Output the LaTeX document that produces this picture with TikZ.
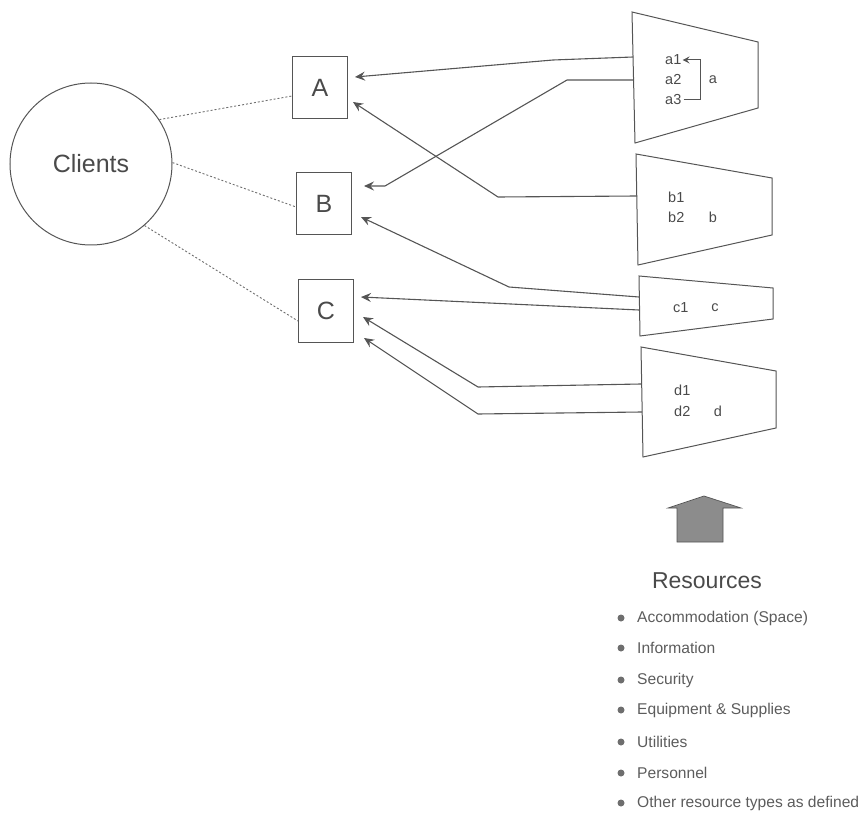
\documentclass[tikz,border=0pt]{standalone}
\usepackage{fontspec}
\setmainfont{Liberation Sans}
\usetikzlibrary{arrows.meta}
\definecolor{ink}{HTML}{555555}
\definecolor{txt}{HTML}{4A4A4A}
\definecolor{blockfill}{HTML}{8C8C8C}
\tikzset{
  line/.style={draw=ink, line width=1pt},
  feed/.style={line, line width=1.1pt, -{Stealth[length=10pt,width=9pt,inset=3.5pt]}},
  dots/.style={draw=ink!85, line width=0.9pt, dash pattern=on 2pt off 2pt},
  client/.style={circle, line, minimum size=162pt, inner sep=0pt, text=txt,
                 font=\fontsize{25}{29}\selectfont},
  centre/.style={rectangle, line, minimum width=55pt, minimum height=62pt,
                 inner sep=0pt, text=txt, font=\fontsize{25}{29}\selectfont},
  item/.style={anchor=west, inner sep=0pt, text=txt, font=\fontsize{14.5}{17}\selectfont},
  tag/.style={inner sep=0pt, text=txt, font=\fontsize{14.5}{17}\selectfont},
  listitem/.style={anchor=west, inner sep=0pt, text=txt!90, font=\fontsize{15.6}{18}\selectfont},
  dot/.style={circle, fill=ink!85, inner sep=0pt, minimum size=7pt}
}
\begin{document}
\begin{tikzpicture}[x=1pt, y=-1pt]
\useasboundingbox (0,0) rectangle (868,813);

% clients and service centres
\node[client] (clients) at (91,164) {Clients};
\node[centre] (A) at (320,88) {A};
\node[centre] (B) at (324,204) {B};
\node[centre] (C) at (326,311) {C};

\draw[dots] (clients.33) -- ([yshift=-8pt]A.west);
\draw[dots] (clients.1) -- ([yshift=-3pt]B.west);
\draw[dots] (clients.-49) -- ([yshift=-10pt]C.west);

% resource pools
\draw[line] (632,12) -- (758,42) -- (758,108) -- (635,143) -- cycle;
\draw[line] (636,154) -- (772,178) -- (772,235) -- (638,265) -- cycle;
\draw[line] (639,276) -- (773,288) -- (773,319) -- (640,336) -- cycle;
\draw[line] (641,347) -- (776,371) -- (776,428) -- (643,457) -- cycle;

\coordinate (pa1) at (633,57);
\coordinate (pa2) at (633,80);
\coordinate (pb1) at (637,196);
\coordinate (pc1) at (639,297);
\coordinate (pc2) at (639,310);
\coordinate (pd1) at (641,384);
\coordinate (pd2) at (642,412);

% pool contents
\node[item] (a1) at (665,60) {a1};
\node[item] (a2) at (665,80) {a2};
\node[item] (a3) at (665,100) {a3};
\node[tag] (a) at (713,80) {a};
\draw[line, -{Stealth[length=7pt,width=7pt,inset=2.5pt]}]
  ([xshift=2pt]a3.east) -- (700,100) -- (700,60) -- ([xshift=1pt]a1.east);

\node[item] (b1) at (668,197) {b1};
\node[item] (b2) at (668,217) {b2};
\node[tag] (b) at (713,217) {b};

\node[item] (c1) at (673,308) {c1};
\node[tag] (c) at (715,308) {c};

\node[item] (d1) at (674,390) {d1};
\node[item] (d2) at (674,411) {d2};
\node[tag] (d) at (718,411) {d};

% allocations
\draw[feed] (pa1) -- (553,60) -- ([shift={(7,-11)}]A.east);
\draw[feed] (pa2) -- (567,80) -- (385,186) -- ([shift={(12,-18)}]B.east);
\draw[feed] (pb1) -- (498,197) -- ([shift={(5,14)}]A.east);
\draw[feed] (pc1) -- (509,287) -- ([shift={(9,13)}]B.east);
\draw[feed] (pc2) -- ([shift={(7,-14)}]C.east);
\draw[feed] (pd1) -- (478,387) -- ([shift={(9,6)}]C.east);
\draw[feed] (pd2) -- (478,414) -- ([shift={(10,27)}]C.east);

% supply arrow
\filldraw[fill=blockfill, draw=ink, line width=0.7pt]
  (677,542) -- (677,508) -- (668,508) -- (704,496) -- (741,508)
  -- (723,508) -- (723,542) -- cycle;

% resource types
\node[text=txt, inner sep=0pt, font=\fontsize{23}{27}\selectfont] (res) at (707,581) {Resources};

\foreach \y/\t [count=\i] in {
  618/Accommodation (Space),
  648/Information,
  680/Security,
  710/Equipment \& Supplies,
  742/Utilities,
  773/Personnel,
  803/Other resource types as defined} {
  \node[dot] (bul\i) at (621,\y) {};
  \node[listitem] (li\i) at (637,\y) {\t};
}
\end{tikzpicture}
\end{document}
